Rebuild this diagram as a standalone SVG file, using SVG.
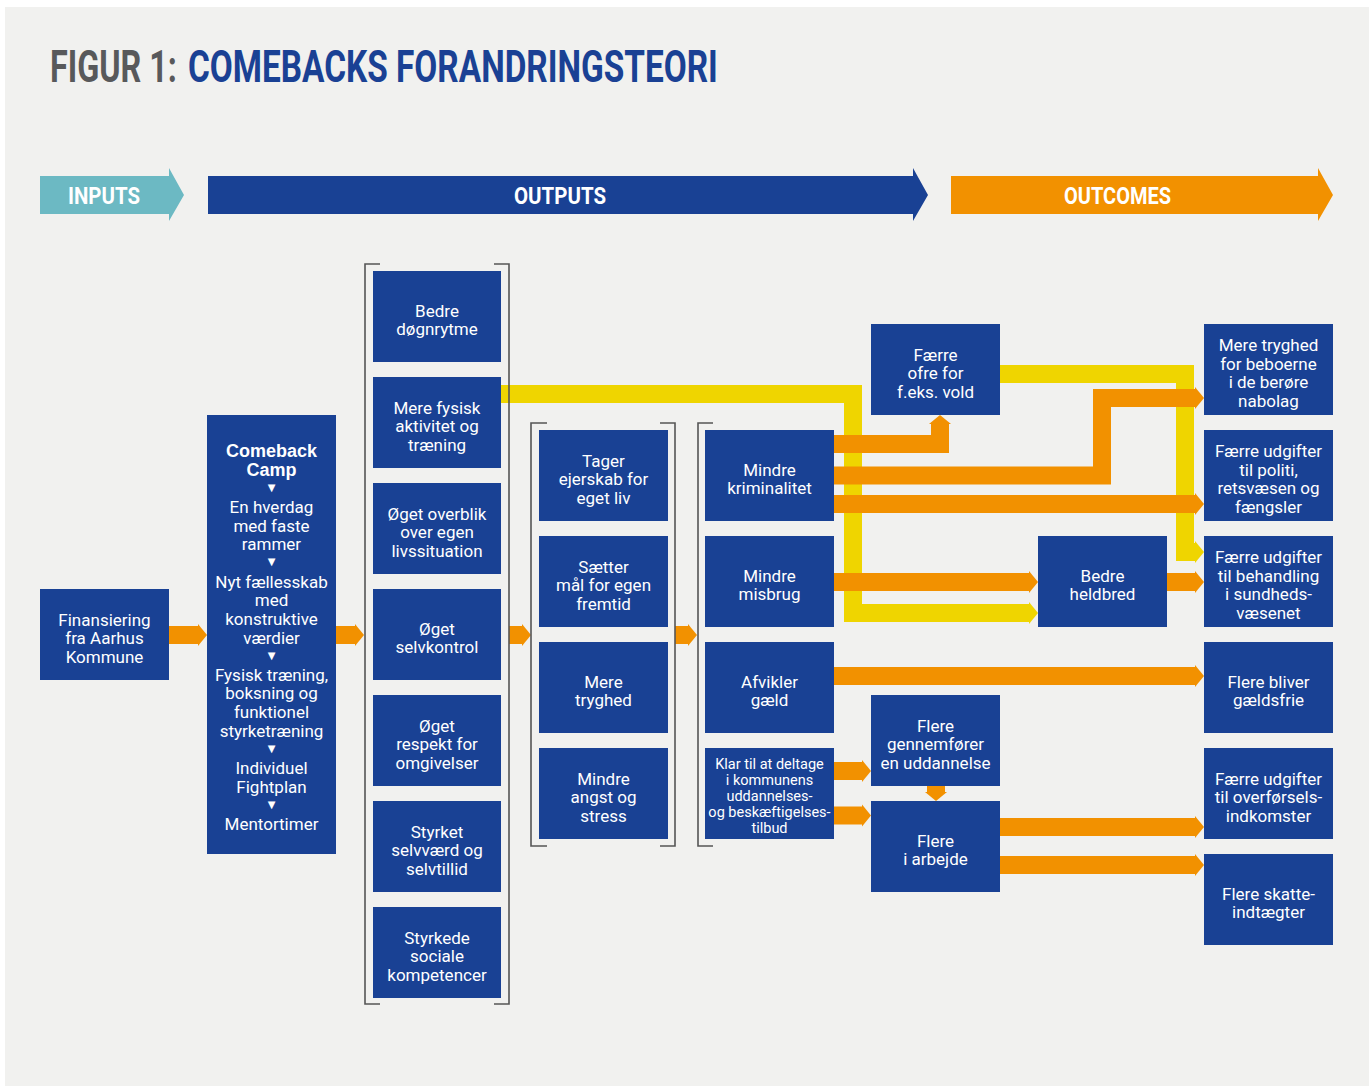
<svg xmlns="http://www.w3.org/2000/svg" width="1369" height="1086" viewBox="0 0 1369 1086">
<style>
.bg{fill:#f1f1ef}
.n{fill:#194194}
.t{font-family:Roboto,"Liberation Sans",sans-serif;font-size:17px;fill:#ffffff;text-anchor:middle}
.ts{font-size:14.5px}
.tb{font-family:"Liberation Sans",Arial,sans-serif;font-weight:bold;font-size:18px}
.tri{font-family:"DejaVu Sans",sans-serif;font-size:10px;fill:#ffffff;text-anchor:middle}
.hd{font-family:Roboto,"DejaVu Sans",sans-serif;font-weight:bold;font-size:24px;fill:#ffffff}
.ti{font-family:Roboto,"DejaVu Sans",sans-serif;font-weight:bold;font-size:45px}
.or{fill:none;stroke:#f29100;stroke-width:18;stroke-linejoin:miter}
.ye{fill:none;stroke:#efd500;stroke-width:18;stroke-linejoin:miter}
.br{fill:none;stroke:#555555;stroke-width:1.6}
</style>
<defs>
<marker id="ao" markerUnits="userSpaceOnUse" markerWidth="10" markerHeight="24" refX="0" refY="12" orient="auto"><path d="M0,1 L9,12 L0,23 Z" fill="#f29100"/></marker>
<marker id="ay" markerUnits="userSpaceOnUse" markerWidth="10" markerHeight="24" refX="0" refY="12" orient="auto"><path d="M0,1 L9,12 L0,23 Z" fill="#efd500"/></marker>
</defs>
<rect x="0" y="0" width="1369" height="1086" fill="#ffffff"/>
<rect class="bg" x="5" y="7" width="1364" height="1079"/>

<g id="title">
<g transform="translate(50,82) scale(0.74,1)"><text class="ti" x="0" y="0" fill="#58595b" textLength="171.6" lengthAdjust="spacingAndGlyphs">FIGUR 1:</text></g>
<g transform="translate(188,82) scale(0.74,1)"><text class="ti" x="0" y="0" fill="#1a4194" textLength="716" lengthAdjust="spacingAndGlyphs">COMEBACKS FORANDRINGSTEORI</text></g>
</g>

<g id="header">
<path d="M40,176 H169 V168 L184,195 L169,221 V214 H40 Z" fill="#6cb9c3"/>
<text class="hd" x="68" y="204" textLength="72" lengthAdjust="spacingAndGlyphs">INPUTS</text>
<path d="M208,176 H913 V168 L928,195 L913,221 V214 H208 Z" fill="#194194"/>
<text class="hd" x="514" y="204" textLength="92" lengthAdjust="spacingAndGlyphs">OUTPUTS</text>
<path d="M951,176 H1318 V168 L1333,195 L1318,221 V214 H951 Z" fill="#f29100"/>
<text class="hd" x="1064" y="204" textLength="107" lengthAdjust="spacingAndGlyphs">OUTCOMES</text>
</g>

<g id="connectors">
<path class="ye" d="M501,394 H853 V613 H1029" marker-end="url(#ay)"/>
<path class="ye" d="M1000,374 H1185 V552 H1195" marker-end="url(#ay)"/>
<path class="or" d="M169,635 H198" marker-end="url(#ao)"/>
<path class="or" d="M336,635 H355" marker-end="url(#ao)"/>
<path class="or" d="M509,635 H522" marker-end="url(#ao)"/>
<path class="or" d="M675,635 H688" marker-end="url(#ao)"/>
<path class="or" d="M834,444 H940 V424" marker-end="url(#ao)"/>
<path class="or" d="M834,475.5 H1102 V398 H1195" marker-end="url(#ao)"/>
<path class="or" d="M834,504 H1195" marker-end="url(#ao)"/>
<path class="or" d="M834,582 H1029" marker-end="url(#ao)"/>
<path class="or" d="M1167,582 H1195" marker-end="url(#ao)"/>
<path class="or" d="M834,676 H1195" marker-end="url(#ao)"/>
<path class="or" d="M834,771 H862" marker-end="url(#ao)"/>
<path class="or" d="M834,815.5 H862" marker-end="url(#ao)"/>
<path class="or" d="M936,786 V792" marker-end="url(#ao)"/>
<path class="or" d="M1000,827 H1195" marker-end="url(#ao)"/>
<path class="or" d="M1000,865 H1195" marker-end="url(#ao)"/>
</g>

<g id="brackets">
<path class="br" d="M380,264 H365 V1004 H380"/>
<path class="br" d="M494,264 H509 V1004 H494"/>
<path class="br" d="M547,423 H531 V846 H547"/>
<path class="br" d="M660,423 H675 V846 H660"/>
<path class="br" d="M713,423 H698 V846 H713"/>
</g>

<g id="n-finansiering"><rect class="n" x="40" y="589" width="129" height="91"/>
<text class="t" x="104.5" y="625.5">Finansiering</text><text class="t" x="104.5" y="644">fra Aarhus</text><text class="t" x="104.5" y="662.5">Kommune</text></g>

<g id="n-camp"><rect class="n" x="207" y="415" width="129" height="439"/>
<text class="t tb" x="271.5" y="457">Comeback</text>
<text class="t tb" x="271.5" y="475.65">Camp</text>
<text class="tri" x="271.5" y="490.8">▼</text>
<text class="t" x="271.5" y="512.95">En hverdag</text>
<text class="t" x="271.5" y="531.6">med faste</text>
<text class="t" x="271.5" y="550.25">rammer</text>
<text class="tri" x="271.5" y="565.4">▼</text>
<text class="t" x="271.5" y="587.55">Nyt fællesskab</text>
<text class="t" x="271.5" y="606.2">med</text>
<text class="t" x="271.5" y="624.85">konstruktive</text>
<text class="t" x="271.5" y="643.5">værdier</text>
<text class="tri" x="271.5" y="658.65">▼</text>
<text class="t" x="271.5" y="680.8">Fysisk træning,</text>
<text class="t" x="271.5" y="699.45">boksning og</text>
<text class="t" x="271.5" y="718.1">funktionel</text>
<text class="t" x="271.5" y="736.75">styrketræning</text>
<text class="tri" x="271.5" y="751.9">▼</text>
<text class="t" x="271.5" y="774.05">Individuel</text>
<text class="t" x="271.5" y="792.7">Fightplan</text>
<text class="tri" x="271.5" y="807.85">▼</text>
<text class="t" x="271.5" y="830">Mentortimer</text></g>

<g id="n-doegnrytme"><rect class="n" x="373" y="271" width="128" height="91"/>
<text class="t" x="437" y="316.75">Bedre</text><text class="t" x="437" y="335.25">døgnrytme</text></g>
<g id="n-fysisk"><rect class="n" x="373" y="377" width="128" height="91"/>
<text class="t" x="437" y="413.5">Mere fysisk</text><text class="t" x="437" y="432">aktivitet og</text><text class="t" x="437" y="450.5">træning</text></g>
<g id="n-overblik"><rect class="n" x="373" y="483" width="128" height="91"/>
<text class="t" x="437" y="519.5">Øget overblik</text><text class="t" x="437" y="538">over egen</text><text class="t" x="437" y="556.5">livssituation</text></g>
<g id="n-selvkontrol"><rect class="n" x="373" y="589" width="128" height="91"/>
<text class="t" x="437" y="634.75">Øget</text><text class="t" x="437" y="653.25">selvkontrol</text></g>
<g id="n-respekt"><rect class="n" x="373" y="695" width="128" height="91"/>
<text class="t" x="437" y="731.5">Øget</text><text class="t" x="437" y="750">respekt for</text><text class="t" x="437" y="768.5">omgivelser</text></g>
<g id="n-selvvaerd"><rect class="n" x="373" y="801" width="128" height="91"/>
<text class="t" x="437" y="837.5">Styrket</text><text class="t" x="437" y="856">selvværd og</text><text class="t" x="437" y="874.5">selvtillid</text></g>
<g id="n-sociale"><rect class="n" x="373" y="907" width="128" height="91"/>
<text class="t" x="437" y="943.5">Styrkede</text><text class="t" x="437" y="962">sociale</text><text class="t" x="437" y="980.5">kompetencer</text></g>

<g id="n-ejerskab"><rect class="n" x="539" y="430" width="129" height="91"/>
<text class="t" x="603.5" y="466.5">Tager</text><text class="t" x="603.5" y="485">ejerskab for</text><text class="t" x="603.5" y="503.5">eget liv</text></g>
<g id="n-maal"><rect class="n" x="539" y="536" width="129" height="91"/>
<text class="t" x="603.5" y="572.5">Sætter</text><text class="t" x="603.5" y="591">mål for egen</text><text class="t" x="603.5" y="609.5">fremtid</text></g>
<g id="n-tryghed"><rect class="n" x="539" y="642" width="129" height="91"/>
<text class="t" x="603.5" y="687.75">Mere</text><text class="t" x="603.5" y="706.25">tryghed</text></g>
<g id="n-angst"><rect class="n" x="539" y="748" width="129" height="91"/>
<text class="t" x="603.5" y="784.5">Mindre</text><text class="t" x="603.5" y="803">angst og</text><text class="t" x="603.5" y="821.5">stress</text></g>

<g id="n-kriminalitet"><rect class="n" x="705" y="430" width="129" height="91"/>
<text class="t" x="769.5" y="475.75">Mindre</text><text class="t" x="769.5" y="494.25">kriminalitet</text></g>
<g id="n-misbrug"><rect class="n" x="705" y="536" width="129" height="91"/>
<text class="t" x="769.5" y="581.75">Mindre</text><text class="t" x="769.5" y="600.25">misbrug</text></g>
<g id="n-gaeld"><rect class="n" x="705" y="642" width="129" height="91"/>
<text class="t" x="769.5" y="687.75">Afvikler</text><text class="t" x="769.5" y="706.25">gæld</text></g>
<g id="n-klar"><rect class="n" x="705" y="748" width="129" height="91"/>
<text class="t ts" x="769.5" y="769">Klar til at deltage</text><text class="t ts" x="769.5" y="785">i kommunens</text><text class="t ts" x="769.5" y="801">uddannelses-</text><text class="t ts" x="769.5" y="817">og beskæftigelses-</text><text class="t ts" x="769.5" y="833">tilbud</text></g>

<g id="n-ofre"><rect class="n" x="871" y="324" width="129" height="91"/>
<text class="t" x="935.5" y="360.5">Færre</text><text class="t" x="935.5" y="379">ofre for</text><text class="t" x="935.5" y="397.5">f.eks. vold</text></g>
<g id="n-heldbred"><rect class="n" x="1038" y="536" width="129" height="91"/>
<text class="t" x="1102.5" y="581.75">Bedre</text><text class="t" x="1102.5" y="600.25">heldbred</text></g>
<g id="n-uddannelse"><rect class="n" x="871" y="695" width="129" height="91"/>
<text class="t" x="935.5" y="731.5">Flere</text><text class="t" x="935.5" y="750">gennemfører</text><text class="t" x="935.5" y="768.5">en uddannelse</text></g>
<g id="n-arbejde"><rect class="n" x="871" y="801" width="129" height="91"/>
<text class="t" x="935.5" y="846.75">Flere</text><text class="t" x="935.5" y="865.25">i arbejde</text></g>

<g id="n-beboerne"><rect class="n" x="1204" y="324" width="129" height="91"/>
<text class="t" x="1268.5" y="351.25">Mere tryghed</text><text class="t" x="1268.5" y="369.75">for beboerne</text><text class="t" x="1268.5" y="388.25">i de berøre</text><text class="t" x="1268.5" y="406.75">nabolag</text></g>
<g id="n-politi"><rect class="n" x="1204" y="430" width="129" height="91"/>
<text class="t" x="1268.5" y="457.25">Færre udgifter</text><text class="t" x="1268.5" y="475.75">til politi,</text><text class="t" x="1268.5" y="494.25">retsvæsen og</text><text class="t" x="1268.5" y="512.75">fængsler</text></g>
<g id="n-behandling"><rect class="n" x="1204" y="536" width="129" height="91"/>
<text class="t" x="1268.5" y="563.25">Færre udgifter</text><text class="t" x="1268.5" y="581.75">til behandling</text><text class="t" x="1268.5" y="600.25">i sundheds-</text><text class="t" x="1268.5" y="618.75">væsenet</text></g>
<g id="n-gaeldsfrie"><rect class="n" x="1204" y="642" width="129" height="91"/>
<text class="t" x="1268.5" y="687.75">Flere bliver</text><text class="t" x="1268.5" y="706.25">gældsfrie</text></g>
<g id="n-overfoersel"><rect class="n" x="1204" y="748" width="129" height="91"/>
<text class="t" x="1268.5" y="784.5">Færre udgifter</text><text class="t" x="1268.5" y="803">til overførsels-</text><text class="t" x="1268.5" y="821.5">indkomster</text></g>
<g id="n-skat"><rect class="n" x="1204" y="854" width="129" height="91"/>
<text class="t" x="1268.5" y="899.75">Flere skatte-</text><text class="t" x="1268.5" y="918.25">indtægter</text></g>
</svg>
